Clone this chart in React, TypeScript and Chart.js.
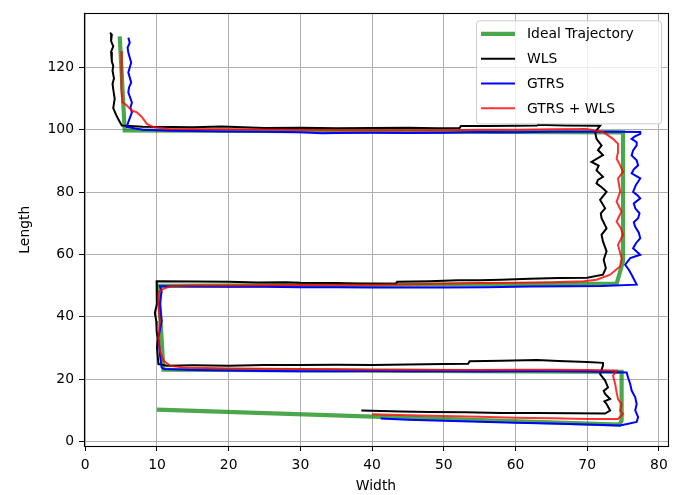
import React, { useEffect, useRef } from "react";
import { Chart, registerables } from "chart.js";

Chart.register(...registerables);

const xTicks = [0, 10, 20, 30, 40, 50, 60, 70, 80];
const yTicks = [0, 20, 40, 60, 80, 100, 120];
const xTitle = "Width";
const yTitle = "Length";
const seriesNames = ["Ideal Trajectory", "WLS", "GTRS", "GTRS + WLS"];

const idealX = [4.8, 5.5, 75.0, 75.0, 74.1, 10.2, 10.9, 74.8, 74.8, 74.5, 10.0];
const idealY = [130.0, 99.8, 99.2, 57.8, 50.6, 49.9, 23.0, 22.3, 6.7, 5.4, 10.2];

const wlsX = [
  3.44, 3.7, 3.6, 3.9, 3.6, 3.7, 3.9, 3.8, 4.0, 3.8, 3.9, 4.1, 3.9, 4.3, 4.7, 5.1,
  8, 12, 15, 19, 22, 25, 30, 35, 40, 45, 49, 52.2, 52.4, 56, 60, 63, 63.2, 67, 71.8,
  71.1, 71.3, 72.0, 71.5, 72.2, 70.6, 71.6, 71.3, 72.2, 71.5, 71.3, 72.1, 72.7, 71.8, 72.5, 71.9, 72.0, 72.7, 72.0, 72.2, 72.7, 72.3, 72.6, 72.2,
  70, 66, 62, 58, 55, 52, 48, 43.5, 43.3, 38, 35, 30, 28, 24, 20, 15, 9.95,
  10.0, 9.95, 9.7, 9.9, 9.95, 10.1, 10.0, 10.2, 11.4,
  15, 20, 25, 30, 35, 40, 45, 50, 53.4, 53.6, 58, 63, 66, 70, 72.2,
  72.2, 71.8, 72.5, 72.9, 72.3, 72.5, 73.2, 72.4, 72.7, 73.2, 72.5,
  68, 63, 58, 53, 48, 44, 38.5,
];
const wlsY = [
  131.2, 130.6, 128.5, 126.8, 125.0, 122.0, 120.5, 119.0, 116.5, 114.8, 113.0, 110.0, 107.0, 104.8, 103.0, 101.4,
  101.0, 100.9, 100.8, 101.1, 100.8, 100.6, 100.7, 100.5, 100.6, 100.7, 100.5, 100.6, 101.2, 101.2, 101.3, 101.4, 101.6, 101.4, 101.3,
  99.3, 97.1, 95.0, 93.5, 91.9, 89.7, 88.5, 87.0, 84.9, 83.9, 82.8, 81.4, 80.1, 77.5, 74.8, 73.2, 71.6, 68.4, 66.3, 64.2, 61.0, 58.3, 55.6, 53.5,
  52.5, 52.4, 52.2, 51.9, 51.7, 51.7, 51.4, 51.2, 50.6, 50.7, 50.8, 50.9, 51.1, 51.0, 51.2, 51.3, 51.4,
  48.2, 44.0, 41.2, 38.6, 35.4, 33.0, 30.1, 24.8, 24.3,
  24.4, 24.3, 24.5, 24.5, 24.6, 24.5, 24.7, 24.8, 24.9, 25.7, 25.9, 26.1, 25.8, 25.5, 25.2,
  24.3, 21.6, 19.5, 17.3, 16.2, 15.2, 13.6, 12.8, 12.0, 9.9, 8.9,
  9.0, 9.1, 9.1, 9.3, 9.4, 9.6, 9.9,
];

const gtrsX = [
  6.0, 6.2, 5.9, 6.0, 6.4, 6.0, 6.4, 6.1, 6.0, 6.5, 6.3, 6.5, 6.0, 5.8,
  8, 12, 15, 20, 25, 30, 33, 35, 40, 45, 50, 55, 60, 65, 70, 74, 77.4,
  77.4, 76.6, 76.2, 76.9, 76.9, 76.4, 76.2, 76.9, 77.1, 76.5, 76.2, 77.4, 76.8, 76.4, 77.0, 77.4, 76.5, 76.7, 77.3, 77.1, 76.5, 76.7, 77.2, 77.4, 76.8, 76.4, 77.4, 76.0, 75.3, 75.8, 76.2, 76.9,
  72, 68, 62, 56, 50, 45, 40, 35, 30, 25, 20, 15, 12, 10.4,
  10.65, 10.4, 10.65, 10.2, 10.4, 10.65, 11.0,
  15, 20, 25, 30, 35, 40, 45, 50, 55, 60, 65, 70, 75.5,
  75.7, 76.0, 76.2, 76.7, 76.9, 76.7, 77.1, 76.9, 74.6,
  70, 65, 60, 55, 50, 45, 41.2,
];
const gtrsY = [
  129.6, 128.0, 126.4, 124.8, 121.6, 118.4, 115.2, 113.6, 112.0, 108.8, 107.2, 105.6, 102.5, 100.9,
  100.0, 99.7, 99.6, 99.5, 99.4, 99.2, 98.9, 99.0, 99.1, 99.0, 99.1, 99.3, 99.2, 99.4, 99.4, 99.4, 99.3,
  98.7, 97.8, 97.1, 96.0, 95.0, 93.4, 91.8, 90.2, 88.6, 87.3, 86.0, 84.4, 82.3, 80.1, 79.0, 78.0, 76.4, 74.8, 73.2, 71.6, 70.3, 68.9, 67.0, 65.2, 63.6, 62.0, 59.9, 58.8, 56.7, 55.1, 53.5, 50.3,
  49.9, 49.8, 49.7, 49.5, 49.4, 49.4, 49.4, 49.5, 49.5, 49.6, 49.6, 49.7, 49.8, 49.8,
  48.2, 44.0, 38.6, 33.3, 28.0, 23.7, 23.2,
  22.9, 22.7, 22.6, 22.5, 22.5, 22.6, 22.5, 22.5, 22.4, 22.5, 22.5, 22.4, 22.1,
  20.5, 18.4, 16.3, 14.1, 12.0, 9.9, 7.8, 6.2, 5.1,
  5.4, 5.7, 6.0, 6.3, 6.6, 6.9, 7.3,
];

const hybridX = [
  5.1, 5.0, 5.1, 5.0, 5.2, 5.8, 6.5, 7.2, 7.9, 8.6, 9.5, 11.6,
  15, 20, 25, 30, 35, 40, 45, 50, 55, 60, 65, 69.9,
  72.2, 73.6, 74.3, 74.3, 74.1, 74.6, 75.0, 74.3, 74.6, 74.1, 74.8, 74.4, 74.1, 74.7, 75.0, 74.3, 74.8, 74.6, 73.2, 71.3, 69.5,
  65, 60, 55, 50, 45, 40, 35, 30, 25, 20, 15, 11.8,
  10.65, 10.2, 10.2, 10.4, 10.2, 10.4, 10.9, 11.8, 13.7,
  20, 25, 30, 35, 40, 45, 50, 55, 60, 65, 70, 74.1,
  73.6, 73.9, 74.1, 74.3, 74.8, 74.6, 75.0, 74.3,
  70, 65, 60, 55, 50, 45, 40,
];
const hybridY = [
  125.3, 121.6, 117.4, 113.1, 108.8, 107.8, 106.2, 105.6, 104.1, 101.9, 100.9, 100.3,
  100.2, 100.2, 100.1, 100.0, 99.9, 99.9, 99.9, 99.9, 100.0, 100.0, 100.2, 100.3,
  99.3, 97.1, 95.5, 92.9, 90.7, 88.6, 86.5, 84.4, 80.1, 76.9, 73.7, 72.0, 70.5, 68.4, 66.3, 63.1, 58.8, 56.2, 53.5, 51.9, 51.4,
  51.1, 50.9, 50.8, 50.6, 50.4, 50.3, 50.3, 50.2, 50.1, 50.0, 50.0, 49.8,
  48.7, 47.7, 44.0, 38.6, 33.3, 29.0, 25.9, 24.3, 23.7,
  23.4, 23.3, 23.2, 23.1, 23.0, 23.0, 22.9, 22.9, 23.0, 23.0, 22.9, 22.7,
  21.1, 18.4, 15.7, 13.6, 12.0, 9.9, 8.8, 7.2,
  7.2, 7.4, 7.6, 7.9, 8.1, 8.4, 8.7,
];

function toPoints(xs: number[], ys: number[]) {
  return xs.map((x, i) => ({ x, y: ys[i] }));
}

const FONT = "DejaVu Sans";
const FSIZE = 13.9;

const framePlugin = {
  id: "frameAndLegend",
  afterDraw(chart: any) {
    const { ctx, chartArea } = chart;
    const { left, right, top, bottom } = chartArea;
    ctx.save();
    ctx.strokeStyle = "#000";
    ctx.lineWidth = 1.1;
    ctx.strokeRect(Math.round(left) + 0.5, Math.round(top) + 0.5, Math.round(right - left), Math.round(bottom - top));

    const bw = 185;
    const bh = 103;
    const bx = right - 7 - bw;
    const by = top + 7;
    ctx.beginPath();
    if ((ctx as any).roundRect) (ctx as any).roundRect(bx + 0.5, by + 0.5, bw, bh, 3);
    else ctx.rect(bx + 0.5, by + 0.5, bw, bh);
    ctx.fillStyle = "rgba(255,255,255,0.8)";
    ctx.fill();
    ctx.strokeStyle = "#cccccc";
    ctx.lineWidth = 1;
    ctx.stroke();
    ctx.font = `${FSIZE}px "${FONT}"`;
    ctx.textBaseline = "middle";
    ctx.textAlign = "left";
    chart.data.datasets.forEach((ds: any, i: number) => {
      const y = by + 13.5 + i * 24.8;
      ctx.beginPath();
      ctx.strokeStyle = ds.borderColor;
      ctx.lineWidth = ds.borderWidth;
      ctx.moveTo(bx + 5, y);
      ctx.lineTo(bx + 39, y);
      ctx.stroke();
      ctx.fillStyle = "#000";
      ctx.fillText(ds.label, bx + 51, y + 1);
    });
    ctx.restore();
  },
};

export default function App() {
  const ref = useRef<HTMLCanvasElement | null>(null);
  useEffect(() => {
    if (!ref.current) return;
    const chart = new Chart(ref.current, {
      type: "line",
      data: {
        datasets: [
          {
            label: seriesNames[0],
            data: toPoints(idealX, idealY),
            borderColor: "rgba(0,128,0,0.7)",
            borderWidth: 4.2,
            pointRadius: 0,
            tension: 0,
            order: 3,
          },
          {
            label: seriesNames[1],
            data: toPoints(wlsX, wlsY),
            borderColor: "#000000",
            borderWidth: 2,
            pointRadius: 0,
            tension: 0,
            order: 2,
          },
          {
            label: seriesNames[2],
            data: toPoints(gtrsX, gtrsY),
            borderColor: "#0000ff",
            borderWidth: 2,
            pointRadius: 0,
            tension: 0,
            order: 1,
          },
          {
            label: seriesNames[3],
            data: toPoints(hybridX, hybridY),
            borderColor: "rgba(255,0,0,0.8)",
            borderWidth: 2,
            pointRadius: 0,
            tension: 0,
            order: 0,
          },
        ],
      },
      options: {
        animation: false,
        responsive: false,
        devicePixelRatio: 1,
        layout: { padding: { left: 0, right: 20, top: 11, bottom: 0 } },
        plugins: { legend: { display: false }, tooltip: { enabled: false } },
        scales: {
          x: {
            type: "linear",
            min: -0.18,
            max: 81.27,
            afterFit: (s: any) => {
              s.height = 49;
            },
            afterBuildTicks: (s: any) => {
              s.ticks = xTicks.map((v) => ({ value: v }));
            },
            grid: { color: "#b0b0b0", lineWidth: 1, tickLength: 5, tickColor: "#000", drawTicks: true },
            border: { display: false },
            ticks: { color: "#000", padding: 6, font: { family: FONT, size: FSIZE }, maxRotation: 0 },
            title: { display: true, text: xTitle, color: "#000", padding: { top: 0, bottom: 0 }, font: { family: FONT, size: FSIZE } },
          },
          y: {
            type: "linear",
            min: -1.5,
            max: 137.4,
            afterFit: (s: any) => {
              s.width = 84;
            },
            afterBuildTicks: (s: any) => {
              s.ticks = yTicks.map((v) => ({ value: v }));
            },
            grid: { color: "#b0b0b0", lineWidth: 1, tickLength: 5, tickColor: "#000", drawTicks: true },
            border: { display: false },
            ticks: { color: "#000", padding: 5, font: { family: FONT, size: FSIZE } },
            title: { display: true, text: yTitle, color: "#000", padding: { top: 17, bottom: 0 }, font: { family: FONT, size: FSIZE } },
          },
        },
      },
      plugins: [framePlugin],
    });
    return () => chart.destroy();
  }, []);
  return (
    <div style={{ position: "absolute", left: 0, top: 0, width: 688, height: 495, background: "#fff" }}>
      <canvas ref={ref} width={688} height={495} />
    </div>
  );
}
